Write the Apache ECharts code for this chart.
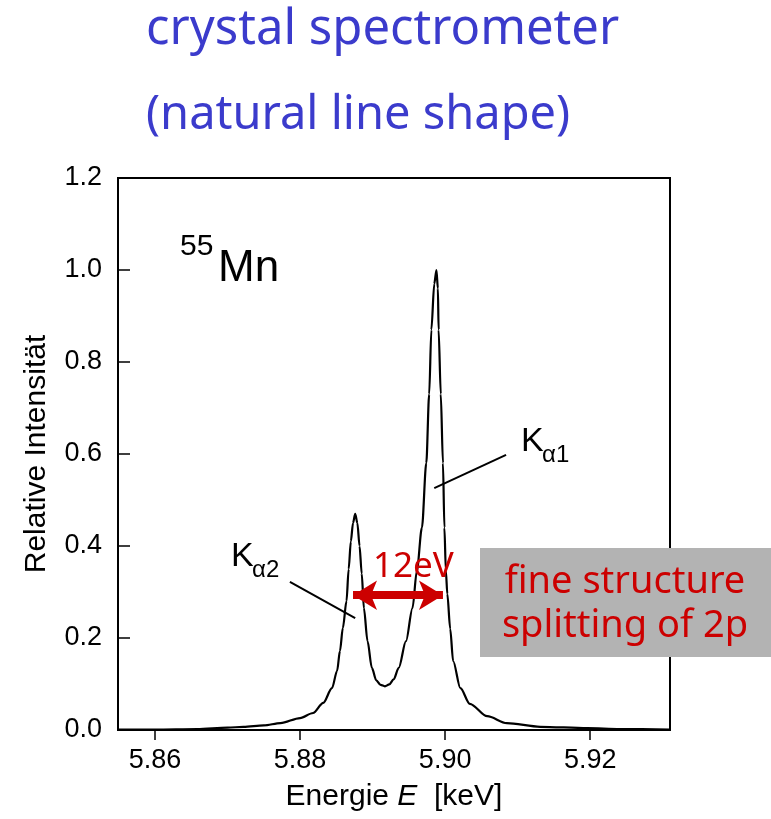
<!DOCTYPE html>
<html><head><meta charset="utf-8">
<script src="https://cdn.jsdelivr.net/npm/echarts@6/dist/echarts.min.js"></script>
<style>html,body{margin:0;padding:0;background:#fff}#c{width:771px;height:819px}</style>
</head><body><div id="c"></div>
<script>
// Energy (keV) and relative intensity
const energy = [5.8549, 5.8600, 5.8658, 5.8700, 5.8722, 5.8750, 5.8773, 5.8800, 5.8818, 5.8832,
  5.8844, 5.8851, 5.8855, 5.8859, 5.8864, 5.8867, 5.8870, 5.8873, 5.8876, 5.8879,
  5.8882, 5.8885, 5.8888, 5.8893, 5.8899, 5.8905, 5.8911, 5.8917, 5.8923, 5.8929,
  5.8936, 5.8946, 5.8955, 5.8961, 5.8968, 5.8974, 5.8978, 5.8981, 5.8985, 5.8988,
  5.8990, 5.8991, 5.8994, 5.8997, 5.8999, 5.9001, 5.9003, 5.9007, 5.9011, 5.9021,
  5.9034, 5.9058, 5.9085, 5.9131, 5.9196, 5.9241, 5.9310];
const intensity = [0.001, 0.001, 0.002, 0.005, 0.007, 0.010, 0.015, 0.026, 0.037, 0.059,
  0.091, 0.128, 0.172, 0.222, 0.280, 0.350, 0.410, 0.450, 0.470, 0.450,
  0.400, 0.340, 0.265, 0.193, 0.135, 0.108, 0.098, 0.095, 0.099, 0.110,
  0.135, 0.193, 0.265, 0.346, 0.440, 0.580, 0.730, 0.870, 0.970, 1.000,
  0.960, 0.870, 0.730, 0.580, 0.440, 0.346, 0.296, 0.220, 0.150, 0.091,
  0.057, 0.030, 0.015, 0.007, 0.004, 0.002, 0.001];
const xTickValues = [5.86, 5.88, 5.90, 5.92];
const xRange = [5.8549, 5.931];
const yRange = [0, 1.2];
const yStep = 0.2;
// annotation anchors (data coordinates)
const ka1Leader = [[5.8985, 0.526], [5.9084, 0.598]];
const ka2Leader = [[5.8786, 0.322], [5.8876, 0.243]];
const splitArrow = [[5.8873, 0.293], [5.8997, 0.293]];

const chart = echarts.init(document.getElementById('c'), null, {renderer: 'canvas'});
const axisFont = '"Liberation Sans", Arial, Helvetica, sans-serif';
const comic = '"Comic Sans MS", "Noto Sans", sans-serif';
const red = '#cc0000';
const blue = '#3b3bcc';

function txt(text, x, y, size, color, family, align) {
  return {type: 'text', x: x, y: y, z: 100,
    style: {text: text, fontSize: size, fill: color, fontFamily: family,
      align: align || 'left', verticalAlign: 'middle'}};
}

chart.setOption({
  animation: false,
  backgroundColor: '#fff',
  grid: {left: 118, right: 101, top: 178, bottom: 89, show: true,
    borderColor: '#000', borderWidth: 2, backgroundColor: 'transparent'},
  xAxis: {
    type: 'value', min: xRange[0], max: xRange[1],
    name: 'Energie {i|E}  [keV]', nameLocation: 'middle', nameGap: 52,
    nameTextStyle: {fontSize: 30, color: '#000', fontFamily: axisFont,
      rich: {i: {fontSize: 30, fontStyle: 'italic', color: '#000', fontFamily: axisFont}}},
    axisLine: {show: true, lineStyle: {color: '#000', width: 2}},
    axisTick: {show: true, inside: false, length: 10, customValues: xTickValues,
      lineStyle: {color: '#000', width: 1.5}},
    axisLabel: {customValues: xTickValues, fontSize: 27, color: '#000', fontFamily: axisFont,
      margin: 17, formatter: v => v.toFixed(2)},
    splitLine: {show: false}
  },
  yAxis: {
    type: 'value', min: yRange[0], max: yRange[1], interval: yStep,
    name: 'Relative Intensität', nameLocation: 'middle', nameGap: 66, nameRotate: 90,
    nameTextStyle: {fontSize: 30, color: '#000', fontFamily: axisFont},
    axisLine: {show: true, lineStyle: {color: '#000', width: 2}},
    axisTick: {show: true, inside: true, length: 12, lineStyle: {color: '#000', width: 1.5}},
    axisLabel: {fontSize: 27, color: '#000', fontFamily: axisFont, margin: 16,
      formatter: v => v.toFixed(1)},
    splitLine: {show: false}
  },
  series: [
    {
      type: 'line', data: energy.map((e, i) => [e, intensity[i]]),
      showSymbol: false, smooth: 0.3, smoothMonotone: 'x', z: 3,
      lineStyle: {color: '#000', width: 2.2},
      markLine: {
        silent: true, symbol: 'none', animation: false, label: {show: false},
        lineStyle: {color: '#000', width: 2, type: 'solid'},
        emphasis: {disabled: true},
        data: [
          [{coord: ka1Leader[0]}, {coord: ka1Leader[1]}],
          [{coord: ka2Leader[0]}, {coord: ka2Leader[1]}]
        ]
      }
    },
    {
      type: 'line', data: [], z: 5,
      markLine: {
        silent: true, symbol: ['arrow', 'arrow'], symbolSize: [22, 24], animation: false,
        label: {show: false}, emphasis: {disabled: true},
        lineStyle: {color: red, width: 8, type: 'solid'},
        itemStyle: {color: red},
        data: [[{coord: splitArrow[0]}, {coord: splitArrow[1]}]]
      }
    }
  ],
  graphic: [
    txt('crystal spectrometer', 146, 30, 49, blue, comic),
    txt('(natural line shape)', 146, 116, 47, blue, comic),
    txt('55', 180, 247, 30, '#000', axisFont),
    txt('Mn', 218, 269, 44, '#000', axisFont),
    txt('K', 521, 442, 34, '#000', axisFont),
    txt('α1', 542, 455, 24, '#000', axisFont),
    txt('K', 231, 557, 34, '#000', axisFont),
    txt('α2', 252, 570, 24, '#000', axisFont),
    txt('12eV', 373, 567, 35, red, comic),
    {type: 'rect', z: 99, shape: {x: 480, y: 548, width: 291, height: 109},
      style: {fill: '#b3b3b3'}},
    txt('fine structure', 625, 582, 38, red, comic, 'center'),
    txt('splitting of 2p', 625, 626, 38, red, comic, 'center')
  ]
});
</script>
</body></html>
